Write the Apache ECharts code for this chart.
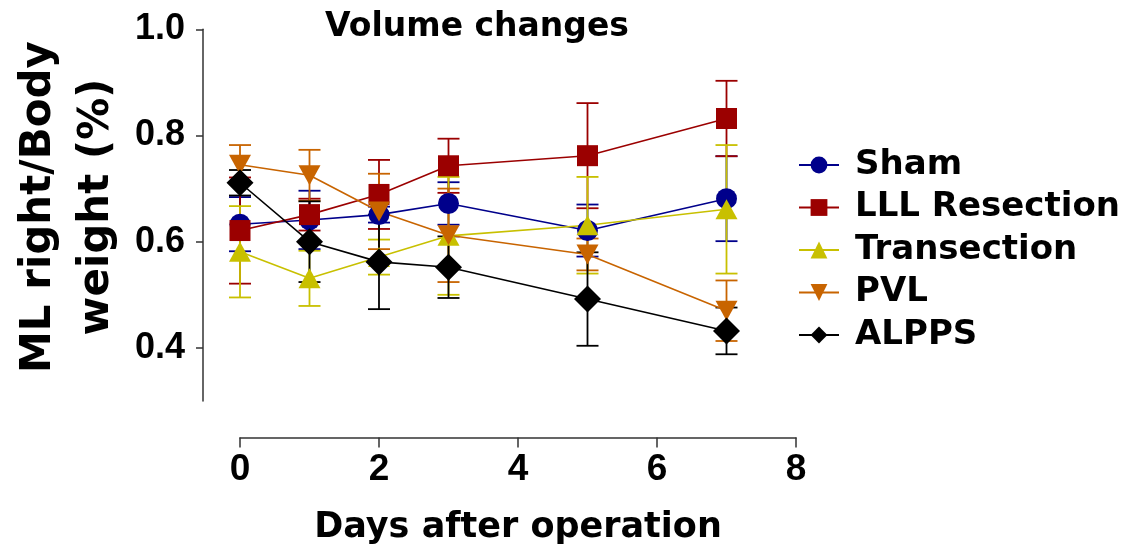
<!DOCTYPE html>
<html>
<head>
<meta charset="utf-8">
<script src="https://cdn.jsdelivr.net/npm/echarts@6/dist/echarts.min.js"></script>
<style>
html,body{margin:0;padding:0;background:#fff;}
#chart{width:1133px;height:559px;}
</style>
</head>
<body>
<div id="chart"></div>
<script>
// ---- data ----
const days = [0, 1, 2, 3, 5, 7];
const groupNames = ['Sham', 'LLL Resection', 'Transection', 'PVL', 'ALPPS'];
const shamMean = [0.633, 0.641, 0.651, 0.672, 0.621, 0.681];
const shamSem  = [0.051, 0.055, 0.015, 0.040, 0.049, 0.080];
const lllMean  = [0.621, 0.651, 0.689, 0.743, 0.762, 0.832];
const lllSem   = [0.100, 0.030, 0.065, 0.051, 0.099, 0.071];
const transMean = [0.581, 0.531, 0.571, 0.611, 0.631, 0.661];
const transSem  = [0.086, 0.052, 0.033, 0.111, 0.091, 0.121];
const pvlMean  = [0.745, 0.725, 0.657, 0.612, 0.576, 0.470];
const pvlSem   = [0.037, 0.048, 0.071, 0.088, 0.030, 0.057];
const alppsMean = [0.711, 0.600, 0.562, 0.552, 0.492, 0.432];
const alppsSem  = [0.024, 0.076, 0.089, 0.058, 0.088, 0.044];
const yTickValues = [0.4, 0.6, 0.8, 1.0];
const xTickInterval = 2;

// ---- styling ----
const groups = [
  {name: groupNames[0], mean: shamMean, sem: shamSem, color: '#00008b', symbol: 'circle', size: 21},
  {name: groupNames[1], mean: lllMean, sem: lllSem, color: '#9b0000', symbol: 'rect', size: 21},
  {name: groupNames[2], mean: transMean, sem: transSem, color: '#c8c000', symbol: 'path://M5,0 L10,9 L0,9 Z', size: [22, 20]},
  {name: groupNames[3], mean: pvlMean, sem: pvlSem, color: '#c86400', symbol: 'path://M0,0 L10,0 L5,9 Z', size: [22, 20]},
  {name: groupNames[4], mean: alppsMean, sem: alppsSem, color: '#000000', symbol: 'diamond', size: 27}
];

const series = [];
groups.forEach(g => {
  series.push({
    name: g.name + ' SEM',
    type: 'custom',
    clip: false,
    silent: true,
    data: days.map((d, i) => [d, g.mean[i], g.sem[i]]),
    encode: {x: 0, y: 1},
    renderItem: function (params, api) {
      const x = api.value(0), m = api.value(1), s = api.value(2);
      const top = api.coord([x, m + s]);
      const bot = api.coord([x, m - s]);
      const hw = 11;
      const st = {stroke: g.color, lineWidth: 1.8, fill: null};
      return {
        type: 'group',
        children: [
          {type: 'line', shape: {x1: top[0], y1: top[1], x2: bot[0], y2: bot[1]}, style: st},
          {type: 'line', shape: {x1: top[0] - hw, y1: top[1], x2: top[0] + hw, y2: top[1]}, style: st},
          {type: 'line', shape: {x1: bot[0] - hw, y1: bot[1], x2: bot[0] + hw, y2: bot[1]}, style: st}
        ]
      };
    }
  });
  series.push({
    name: g.name,
    type: 'line',
    clip: false,
    data: days.map((d, i) => [d, g.mean[i]]),
    symbol: g.symbol,
    symbolSize: g.size,
    showAllSymbol: true,
    lineStyle: {color: g.color, width: 1.6},
    itemStyle: {color: g.color, opacity: 1},
    emphasis: {disabled: true},
    animation: false
  });
});

const chart = echarts.init(document.getElementById('chart'), null, {renderer: 'canvas'});
chart.setOption({
  backgroundColor: '#ffffff',
  animation: false,
  title: {
    text: 'Volume changes',
    left: 477,
    top: 11,
    textAlign: 'center',
    padding: 0,
    textStyle: {fontFamily: 'DejaVu Sans', fontWeight: 'bold', fontSize: 33, color: '#000'}
  },
  legend: {
    orient: 'vertical',
    left: 793,
    top: 143,
    data: groupNames,
    itemWidth: 40,
    itemHeight: 21,
    itemGap: 8.5,
    selectedMode: false,
    textStyle: {fontFamily: 'DejaVu Sans', fontWeight: 'bold', fontSize: 34, lineHeight: 34, color: '#000', padding: [0, 0, 0, 11]}
  },
  grid: {left: 240, right: 337, top: 29.3, bottom: 158, containLabel: false},
  xAxis: {
    type: 'value',
    min: 0,
    max: 8,
    interval: xTickInterval,
    offset: 36.5,
    name: 'Days after operation',
    nameLocation: 'middle',
    nameGap: 73,
    nameTextStyle: {fontFamily: 'DejaVu Sans', fontWeight: 'bold', fontSize: 35, color: '#000'},
    axisLine: {show: true, onZero: false, lineStyle: {color: '#333', width: 1.5}},
    axisTick: {show: true, length: 10, lineStyle: {color: '#333', width: 1.5}},
    axisLabel: {margin: 14, fontFamily: 'Liberation Sans', fontWeight: 'bold', fontSize: 37, color: '#000'},
    splitLine: {show: false}
  },
  yAxis: {
    type: 'value',
    min: 0.3,
    max: 1.0,
    offset: 37,
    axisLine: {show: true, onZero: false, lineStyle: {color: '#333', width: 1.5}},
    axisTick: {show: true, length: 7, customValues: yTickValues, lineStyle: {color: '#333', width: 1.5}},
    axisLabel: {
      margin: 18,
      customValues: yTickValues,
      formatter: v => v.toFixed(1),
      fontFamily: 'Liberation Sans', fontWeight: 'bold', fontSize: 36, color: '#000'
    },
    splitLine: {show: false}
  },
  graphic: [{
    type: 'text',
    x: 68,
    y: 207,
    rotation: Math.PI / 2,
    style: {
      text: 'ML right/Body\nweight (%)',
      fontFamily: 'DejaVu Sans',
      fontWeight: 'bold',
      fontSize: 42,
      lineHeight: 58,
      fill: '#000',
      align: 'center',
      verticalAlign: 'middle'
    }
  }],
  series: series
});
</script>
</body>
</html>
